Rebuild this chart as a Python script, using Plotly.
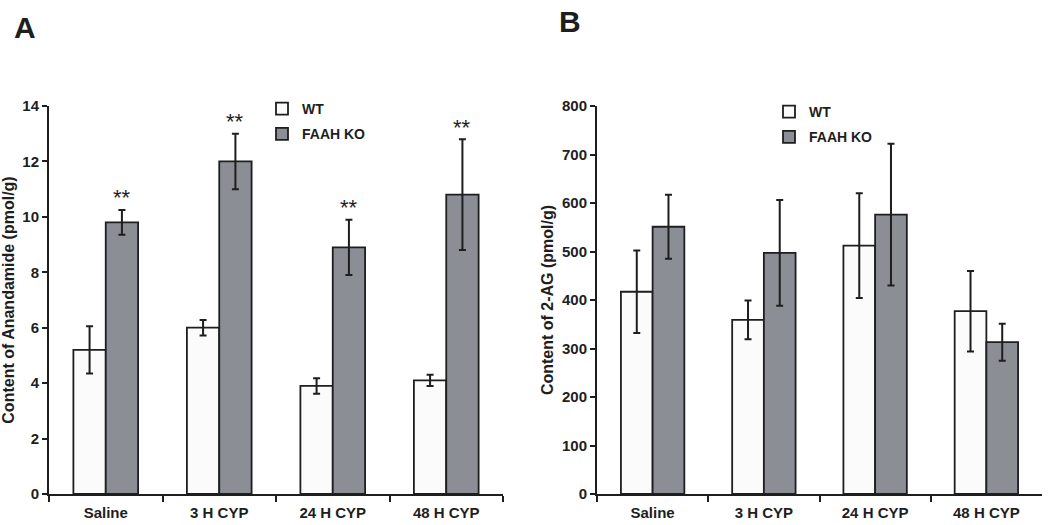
import plotly.graph_objects as go

categories = ["Saline", "3 H CYP", "24 H CYP", "48 H CYP"]

# Panel A: Anandamide (pmol/g)
aea_wt = [5.2, 6.0, 3.9, 4.1]
aea_wt_err = [0.85, 0.28, 0.28, 0.2]
aea_ko = [9.8, 12.0, 8.9, 10.8]
aea_ko_err = [0.45, 1.0, 1.0, 2.0]
aea_sig = ["**", "**", "**", "**"]

# Panel B: 2-AG (pmol/g)
ag_wt = [417, 359, 512, 377]
ag_wt_err = [85, 40, 108, 83]
ag_ko = [551, 497, 576, 313]
ag_ko_err = [66, 109, 146, 38]

WT_FILL = "#fbfbfb"
KO_FILL = "#8b8f95"
INK = "#1e1e1e"
NARROW = "Liberation Sans Narrow, Arial Narrow, Liberation Sans, Arial"
WIDE = "Liberation Sans, Arial, sans-serif"

W, H = 1050, 525


def px(x):
    return x / W


def py(y):
    return 1 - y / H


fig = go.Figure()


def add_bars(y_wt, e_wt, y_ko, e_ko, xa, ya, legend):
    fig.add_trace(go.Bar(
        x=categories, y=y_wt, name="WT", xaxis=xa, yaxis=ya, legend=legend,
        legendgroup=legend + "wt",
        marker=dict(color=WT_FILL, line=dict(color=INK, width=1.8)),
        error_y=dict(type="data", array=e_wt, color=INK, thickness=2, width=3.5),
    ))
    fig.add_trace(go.Bar(
        x=categories, y=y_ko, name="FAAH KO", xaxis=xa, yaxis=ya, legend=legend,
        legendgroup=legend + "ko",
        marker=dict(color=KO_FILL, line=dict(color=INK, width=1.8)),
        error_y=dict(type="data", array=e_ko, color=INK, thickness=2, width=3.5),
    ))


add_bars(aea_wt, aea_wt_err, aea_ko, aea_ko_err, "x", "y", "legend")
add_bars(ag_wt, ag_wt_err, ag_ko, ag_ko_err, "x2", "y2", "legend2")

# significance stars above FAAH KO bars
for c, v, e, s in zip(categories, aea_ko, aea_ko_err, aea_sig):
    fig.add_annotation(
        x=c, y=v + e, xref="x", yref="y", text=s, showarrow=False,
        xshift=16, yshift=12, yanchor="middle",
        font=dict(family=WIDE, size=22, color=INK),
    )

ydom = [py(494), py(106)]
common_x = dict(
    type="category", showline=True, linecolor=INK, linewidth=2,
    ticks="outside", ticklen=6, tickwidth=2, tickcolor=INK,
    tickson="boundaries", showgrid=False, zeroline=False,
    tickfont=dict(family=NARROW, size=15, color=INK, weight="bold"),
    ticklabelstandoff=4,
)
common_y = dict(
    showline=True, linecolor=INK, linewidth=2, ticks="outside", ticklen=5,
    tickwidth=2, tickcolor=INK, showgrid=False, zeroline=False,
    tickfont=dict(family=NARROW, size=15, color=INK, weight="bold"),
)

fig.update_layout(
    width=W, height=H,
    margin=dict(l=0, r=0, t=0, b=0, autoexpand=False),
    paper_bgcolor="white", plot_bgcolor="white",
    barmode="group", bargap=0.43, bargroupgap=0,
    xaxis=dict(domain=[px(49), px(503)], anchor="y", **common_x),
    yaxis=dict(domain=ydom, anchor="x", range=[0, 14], dtick=2,
               title=dict(text="Content of Anandamide (pmol/g)",
                          font=dict(family=WIDE, size=16, color=INK, weight="bold"),
                          standoff=12),
               **common_y),
    xaxis2=dict(domain=[px(597), px(1042)], anchor="y2", **common_x),
    yaxis2=dict(domain=ydom, anchor="x2", range=[0, 800], dtick=100,
                title=dict(text="Content of 2-AG (pmol/g)",
                           font=dict(family=WIDE, size=16, color=INK, weight="bold"),
                           standoff=4),
                **common_y),
    legend=dict(x=px(262), y=py(93), xanchor="left", yanchor="top",
                bgcolor="rgba(0,0,0,0)", tracegroupgap=4, traceorder="grouped",
                font=dict(family=NARROW, size=14, color=INK, weight="bold"),
                itemwidth=30),
    legend2=dict(x=px(769), y=py(96), xanchor="left", yanchor="top",
                 bgcolor="rgba(0,0,0,0)", tracegroupgap=4, traceorder="grouped",
                 font=dict(family=NARROW, size=14, color=INK, weight="bold"),
                 itemwidth=30),
    showlegend=True,
)

fig.add_annotation(x=px(12), y=py(9), xref="paper", yref="paper",
                   text="<b>A</b>", showarrow=False, xanchor="left", yanchor="top",
                   font=dict(family=WIDE, size=30, color=INK))
fig.add_annotation(x=px(557), y=py(3), xref="paper", yref="paper",
                   text="<b>B</b>", showarrow=False, xanchor="left", yanchor="top",
                   font=dict(family=WIDE, size=30, color=INK))

fig.write_html(
    "out.html",
    config={"displayModeBar": False},
    post_script="document.body.style.margin='0';document.body.style.overflow='hidden';",
)
